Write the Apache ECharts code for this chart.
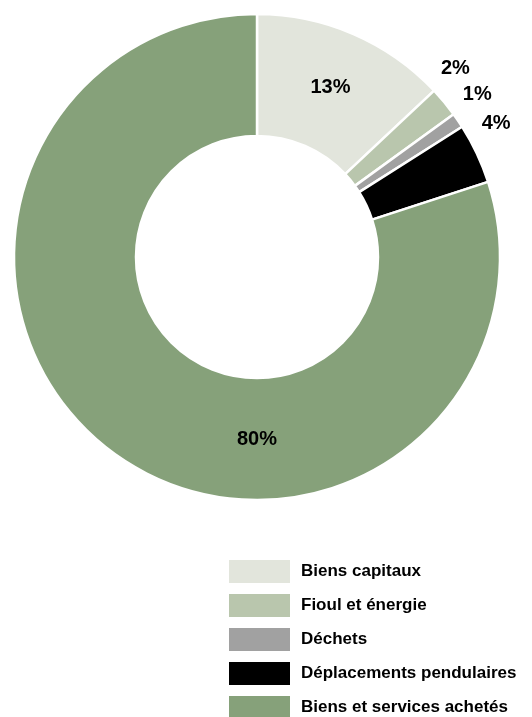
<!DOCTYPE html>
<html>
<head>
<meta charset="utf-8">
<script src="https://cdn.jsdelivr.net/npm/echarts@6/dist/echarts.min.js"></script>
<style>
  html, body { margin: 0; padding: 0; background: #fff; }
  #chart { width: 532px; height: 717px; }
</style>
</head>
<body>
<div id="chart"></div>
<script>
// Emission sources and their share of the total (%)
const categories = [
  'Biens capitaux',
  'Fioul et énergie',
  'Déchets',
  'Déplacements pendulaires',
  'Biens et services achetés'
];
const shares = [13, 2, 1, 4, 80];
const colors = ['#e2e5dc', '#b9c6ad', '#a1a1a1', '#000000', '#86a17a'];

const FONT = '"Liberation Sans", Arial, Helvetica, sans-serif';
const CX = 257, CY = 257, R_IN = 121, R_OUT = 243;

// Slice angles, in degrees clockwise from 12 o'clock
const total = shares.reduce((a, b) => a + b, 0);
const starts = [];
let acc = 0;
shares.forEach(v => { starts.push(acc / total * 360); acc += v; });
const mids = shares.map((v, i) => starts[i] + v / total * 180);
const largest = shares.indexOf(Math.max(...shares));

// Small shares get their label outside the ring, stacked along an arc
const OUTSIDE_LIMIT = 5;
const outsidePos = {};
(function () {
  const R = 274, GAP = 26;
  let prevY = -Infinity;
  shares.forEach((v, i) => {
    if (v >= OUTSIDE_LIMIT) return;
    const a = (mids[i] - 4) * Math.PI / 180;
    let y = Math.max(CY - R * Math.cos(a), prevY + GAP);
    const x = CX + Math.sqrt(Math.max(R * R - (y - CY) * (y - CY), 0));
    outsidePos[i] = { x: x, y: y };
    prevY = y;
  });
})();

const chart = echarts.init(document.getElementById('chart'), null, { renderer: 'canvas' });

chart.setOption({
  animation: false,
  backgroundColor: '#ffffff',
  legend: {
    orient: 'vertical',
    left: 229,
    top: 560,
    height: 200,
    padding: 0,
    icon: 'rect',
    itemWidth: 61,
    itemHeight: 23,
    itemGap: 11,
    selectedMode: false,
    itemStyle: { borderWidth: 0 },
    textStyle: {
      fontFamily: FONT,
      fontWeight: 'bold',
      fontSize: 17,
      color: '#000',
      padding: [0, 0, 0, 6]
    },
    data: categories
  },
  series: [{
    type: 'pie',
    center: [CX, CY],
    radius: [R_IN, R_OUT],
    startAngle: 90,
    clockwise: true,
    avoidLabelOverlap: false,
    itemStyle: { borderColor: '#ffffff', borderWidth: 2.5 },
    label: {
      formatter: '{c}%',
      fontFamily: FONT,
      fontWeight: 'bold',
      fontSize: 20,
      color: '#000'
    },
    labelLine: { show: false },
    emphasis: { disabled: true },
    labelLayout: function (p) {
      const i = p.dataIndex;
      if (outsidePos[i]) {
        return { x: outsidePos[i].x, y: outsidePos[i].y, align: 'center', verticalAlign: 'middle' };
      }
      if (i === largest) {
        return { x: CX, y: CY + (R_IN + R_OUT) / 2, align: 'center', verticalAlign: 'middle' };
      }
      return {};
    },
    data: shares.map((v, i) => ({
      name: categories[i],
      value: v,
      itemStyle: { color: colors[i] },
      label: { position: v < OUTSIDE_LIMIT ? 'outside' : 'inside' }
    }))
  }]
});
</script>
</body>
</html>
